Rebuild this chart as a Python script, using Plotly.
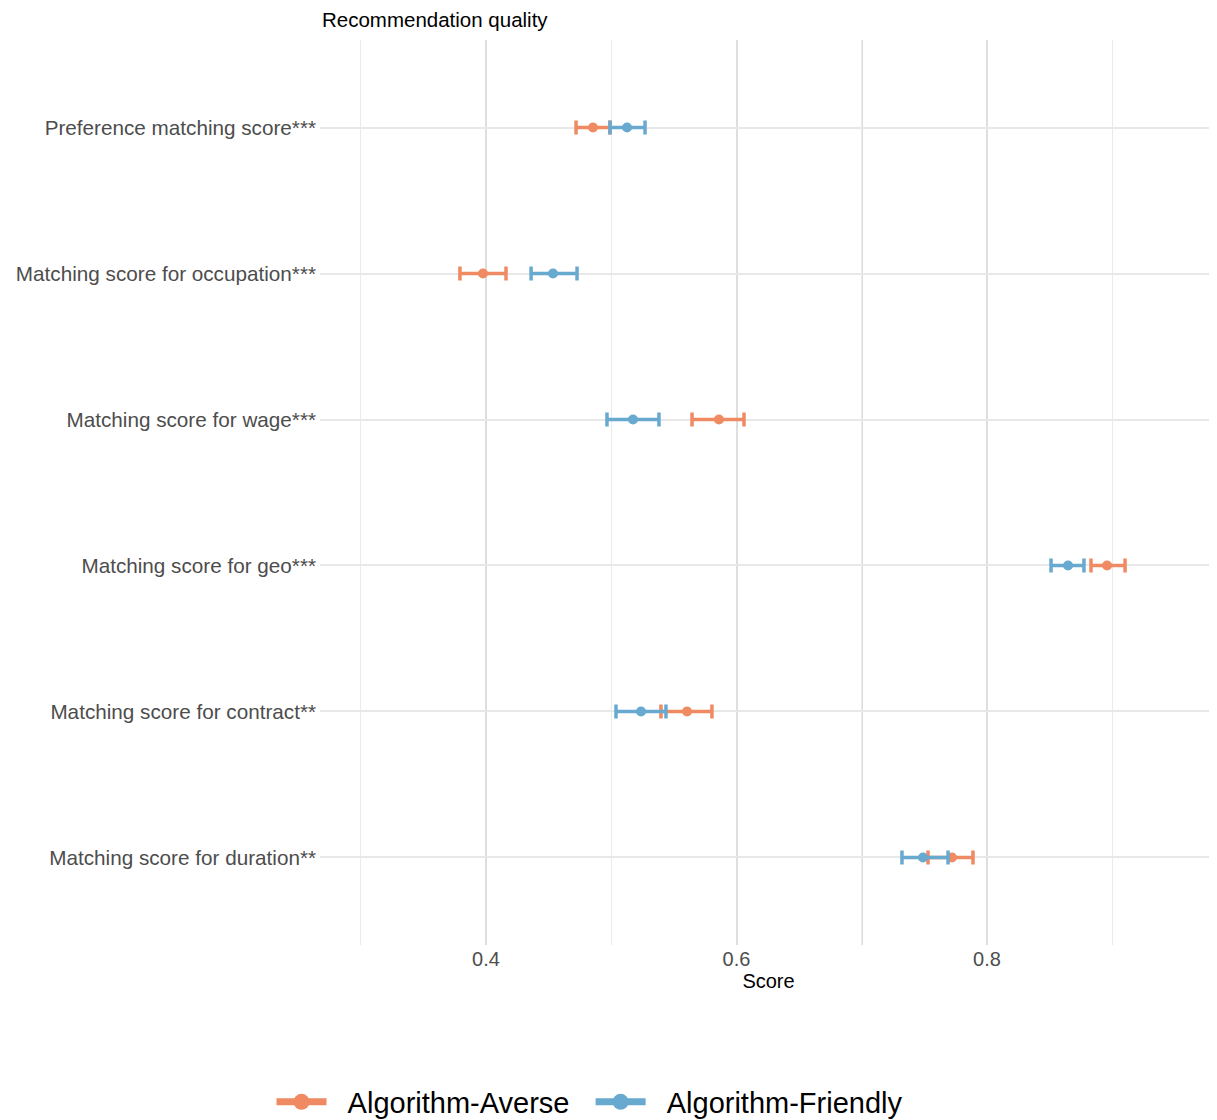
import plotly.graph_objects as go

categories = [
    "Preference matching score***",
    "Matching score for occupation***",
    "Matching score for wage***",
    "Matching score for geo***",
    "Matching score for contract**",
    "Matching score for duration**",
]

averse_mean = [0.4854, 0.3976, 0.5860, 0.8958, 0.5605, 0.7720]
averse_low = [0.4719, 0.3792, 0.5645, 0.8830, 0.5397, 0.7529]
averse_high = [0.4990, 0.4160, 0.6060, 0.9102, 0.5804, 0.7888]

friendly_mean = [0.5126, 0.4535, 0.5174, 0.8647, 0.5238, 0.7489]
friendly_low = [0.4990, 0.4360, 0.4966, 0.8511, 0.5038, 0.7321]
friendly_high = [0.5270, 0.4727, 0.5381, 0.8774, 0.5437, 0.7689]

x_ticks = [0.4, 0.6, 0.8]
x_minor = [0.3, 0.5, 0.7, 0.9]

c_averse = "#EF8A62"
c_friendly = "#67A9CF"

W, H = 1209, 1112  # page has 8px body margin

fig = go.Figure()


def add_series(name, mean, low, high, color):
    plus = [h - m for h, m in zip(high, mean)]
    minus = [m - l for m, l in zip(mean, low)]
    fig.add_trace(go.Scatter(
        x=mean, y=categories, mode="markers", name=name, showlegend=False,
        marker=dict(color=color, size=10),
        error_x=dict(type="data", symmetric=False, array=plus, arrayminus=minus,
                     color=color, thickness=3.5, width=7),
    ))


add_series("Algorithm-Averse", averse_mean, averse_low, averse_high, c_averse)
add_series("Algorithm-Friendly", friendly_mean, friendly_low, friendly_high, c_friendly)

nb = "\u00a0"
legend_names = [nb * 2 + "Algorithm-Averse" + nb * 2, nb * 2 + "Algorithm-Friendly"]
for name, color in zip(legend_names, [c_averse, c_friendly]):
    fig.add_trace(go.Scatter(
        x=[None], y=[None], mode="lines+markers", name=name,
        line=dict(color=color, width=7), marker=dict(color=color, size=16),
    ))

fig.add_vline(x=0.7, line=dict(color="#bdbdbd", width=1.5), layer="below")

fig.update_layout(
    width=W, height=H,
    paper_bgcolor="white", plot_bgcolor="white",
    margin=dict(l=312, r=0, t=32, b=175),
    font=dict(family="Liberation Sans, Arial, sans-serif"),
    title=dict(text="Recommendation quality", xref="container", x=314 / W, xanchor="left",
               yref="container", y=1 - 12 / H, yanchor="middle",
               font=dict(size=20.5, color="black")),
    xaxis=dict(
        range=[0.2675, 0.9836], tickvals=x_ticks, ticktext=["0.4", "0.6", "0.8"],
        showgrid=True, gridcolor="#dedede", gridwidth=1.5, zeroline=False,
        showline=False, ticks="",
        tickfont=dict(size=20, color="#4d4d4d"),
        minor=dict(tickvals=x_minor, showgrid=True, gridcolor="#ebebeb", gridwidth=1),
        title=dict(text="Score", font=dict(size=20, color="black"), standoff=2),
    ),
    yaxis=dict(
        type="category", categoryorder="array", categoryarray=categories,
        range=[5.6, -0.6], showgrid=True, gridcolor="#e8e8e8", gridwidth=2,
        zeroline=False, showline=False, ticks="", ticklabelstandoff=3,
        tickfont=dict(size=20.7, color="#4d4d4d"),
    ),
    legend=dict(orientation="h", xref="container", yref="container",
                x=(590 - 8) / W, xanchor="center", y=1 - (1102 - 8) / H, yanchor="middle",
                font=dict(size=29, color="black"), itemwidth=50,
                bgcolor="rgba(0,0,0,0)"),
)

fig.write_html("out.html")
